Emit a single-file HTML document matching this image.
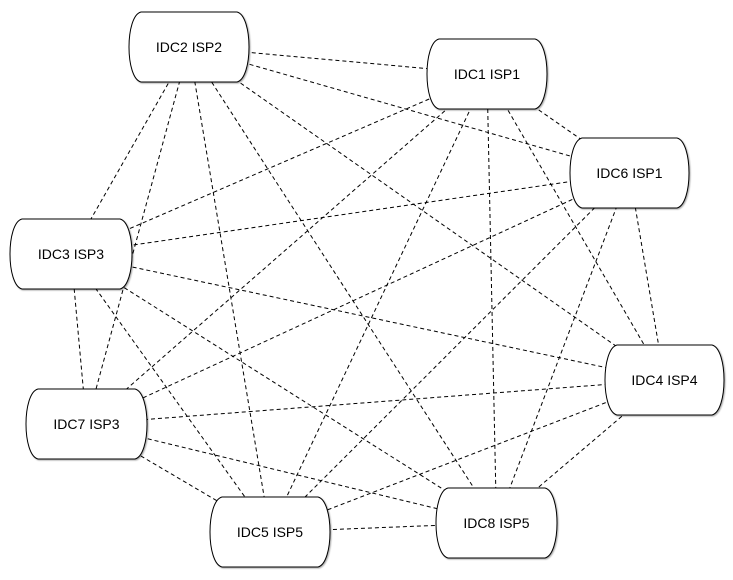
<!DOCTYPE html>
<html><head><meta charset="utf-8"><style>
html,body{margin:0;padding:0;background:#fff;}
svg{display:block;}
text{font-family:"Liberation Sans",Arial,sans-serif;font-size:14px;fill:#000;}
</style></head><body>
<svg width="733" height="580" viewBox="0 0 733 580" xmlns="http://www.w3.org/2000/svg">
<defs>
<filter id="sh" x="-10%" y="-10%" width="130%" height="130%">
<feDropShadow dx="1" dy="1" stdDeviation="0.8" flood-color="#000" flood-opacity="0.35"/>
</filter>
</defs>
<g stroke="#000" stroke-width="1" stroke-dasharray="4,3" fill="none">
<line x1="189" y1="47" x2="487" y2="74"/>
<line x1="189" y1="47" x2="629.5" y2="173"/>
<line x1="189" y1="47" x2="71" y2="254"/>
<line x1="189" y1="47" x2="664.5" y2="380"/>
<line x1="189" y1="47" x2="86.5" y2="424"/>
<line x1="189" y1="47" x2="270" y2="532"/>
<line x1="189" y1="47" x2="496.5" y2="523"/>
<line x1="487" y1="74" x2="629.5" y2="173"/>
<line x1="487" y1="74" x2="71" y2="254"/>
<line x1="487" y1="74" x2="664.5" y2="380"/>
<line x1="487" y1="74" x2="86.5" y2="424"/>
<line x1="487" y1="74" x2="270" y2="532"/>
<line x1="487" y1="74" x2="496.5" y2="523"/>
<line x1="629.5" y1="173" x2="71" y2="254"/>
<line x1="629.5" y1="173" x2="664.5" y2="380"/>
<line x1="629.5" y1="173" x2="86.5" y2="424"/>
<line x1="629.5" y1="173" x2="270" y2="532"/>
<line x1="629.5" y1="173" x2="496.5" y2="523"/>
<line x1="71" y1="254" x2="664.5" y2="380"/>
<line x1="71" y1="254" x2="86.5" y2="424"/>
<line x1="71" y1="254" x2="270" y2="532"/>
<line x1="71" y1="254" x2="496.5" y2="523"/>
<line x1="664.5" y1="380" x2="86.5" y2="424"/>
<line x1="664.5" y1="380" x2="270" y2="532"/>
<line x1="664.5" y1="380" x2="496.5" y2="523"/>
<line x1="86.5" y1="424" x2="270" y2="532"/>
<line x1="86.5" y1="424" x2="496.5" y2="523"/>
<line x1="270" y1="532" x2="496.5" y2="523"/>
</g>
<g fill="#fff" stroke="#000" stroke-width="1" filter="url(#sh)">
<path d="M141,12 H237 C253,16 253,78 237,82 H141 C125,78 125,16 141,12Z"/>
<path d="M439,39 H535 C551,43 551,105 535,109 H439 C423,105 423,43 439,39Z"/>
<path d="M582,138 H677 C693,142 693,204 677,208 H582 C566,204 566,142 582,138Z"/>
<path d="M22,219 H120 C136,223 136,285 120,289 H22 C6,285 6,223 22,219Z"/>
<path d="M617,345 H712 C728,349 728,411 712,415 H617 C601,411 601,349 617,345Z"/>
<path d="M38,389 H135 C151,393 151,455 135,459 H38 C22,455 22,393 38,389Z"/>
<path d="M222,497 H318 C334,501 334,563 318,567 H222 C206,563 206,501 222,497Z"/>
<path d="M448,488 H545 C561,492 561,554 545,558 H448 C432,554 432,492 448,488Z"/>
</g>
<g text-anchor="middle">
<text x="189" y="52">IDC2 ISP2</text>
<text x="487" y="79">IDC1 ISP1</text>
<text x="629.5" y="178">IDC6 ISP1</text>
<text x="71" y="259">IDC3 ISP3</text>
<text x="664.5" y="385">IDC4 ISP4</text>
<text x="86.5" y="429">IDC7 ISP3</text>
<text x="270" y="537">IDC5 ISP5</text>
<text x="496.5" y="528">IDC8 ISP5</text>
</g>
</svg>
</body></html>
